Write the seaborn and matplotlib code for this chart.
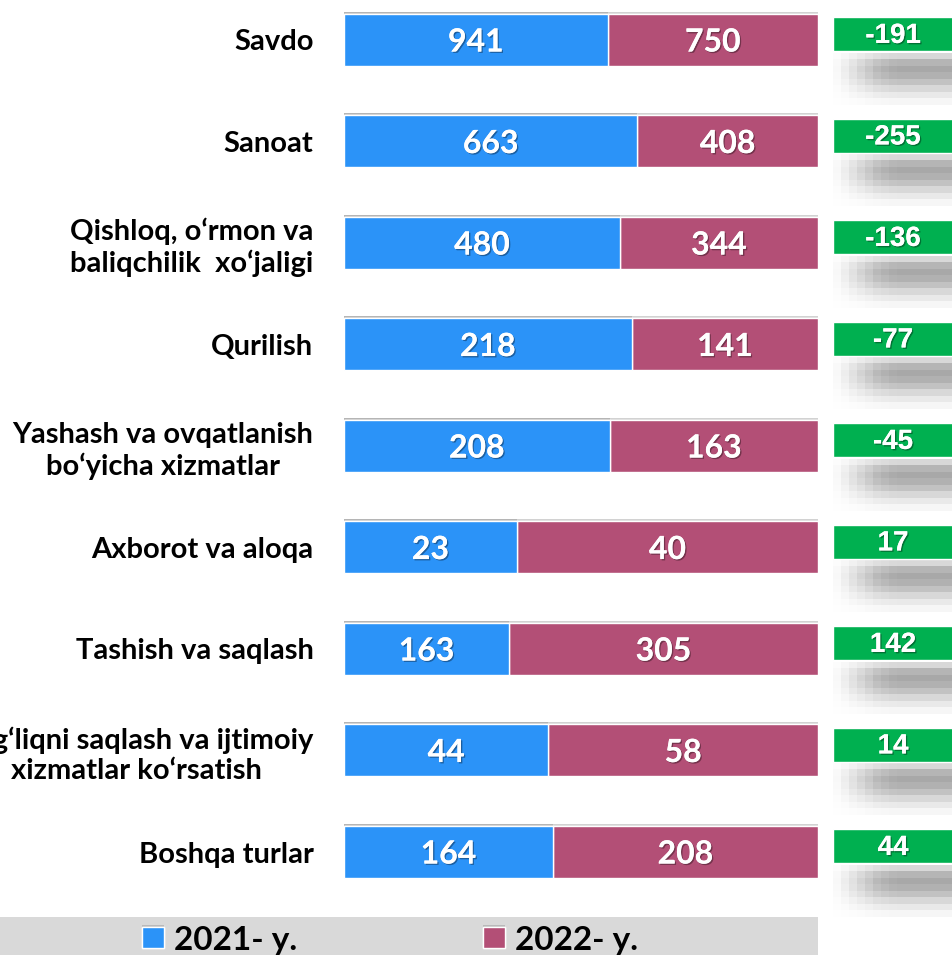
import numpy as np
import pandas as pd
import matplotlib
matplotlib.use("Agg")
import matplotlib.pyplot as plt
import matplotlib.patheffects as pe
import seaborn as sns

categories = [
    "Savdo",
    "Sanoat",
    "Qishloq, o‘rmon va\nbaliqchilik  xo‘jaligi",
    "Qurilish",
    "Yashash va ovqatlanish\nbo‘yicha xizmatlar",
    "Axborot va aloqa",
    "Tashish va saqlash",
    "Sog‘liqni saqlash va ijtimoiy\nxizmatlar ko‘rsatish",
    "Boshqa turlar",
]
values_2021 = [941, 663, 480, 218, 208, 23, 163, 44, 164]
values_2022 = [750, 408, 344, 141, 163, 40, 305, 58, 208]
differences = [-191, -255, -136, -77, -45, 17, 142, 14, 44]
series_names = ["2021- y.", "2022- y."]

C21 = "#2B93F8"
C22 = "#B34F76"
GREEN = "#00B050"

df = pd.DataFrame({"cat": categories, "v21": values_2021, "v22": values_2022})
df["total"] = df["v21"] + df["v22"]
df["s21"] = df["v21"] / df["total"]
df["s22"] = 1.0

sns.set_theme(style="white")
plt.rcParams["font.family"] = ["Lato", "DejaVu Sans"]

W, H = 953, 955
fig = plt.figure(figsize=(W / 100, H / 100), dpi=100)
row_px = 101.5
c0 = 40
ylim = ((H - c0) / row_px, -c0 / row_px)

ax = fig.add_axes([344 / W, 0, 474 / W, 1])
bw = 52 / row_px
sns.barplot(data=df, x="s22", y="cat", color=C22, width=bw, ax=ax,
            saturation=1, label=series_names[1], orient="h")
sns.barplot(data=df, x="s21", y="cat", color=C21, width=bw, ax=ax,
            saturation=1, label=series_names[0], orient="h")
if ax.get_legend() is not None:
    ax.get_legend().remove()
for p in ax.patches:
    p.set_path_effects([pe.withSimplePatchShadow(offset=(0, 1.5), shadow_rgbFace="gray", alpha=0.35), pe.Normal()])
ax.set_xlim(0, 1)
ax.set_ylim(*ylim)
ax.set_xlabel("")
ax.set_ylabel("")
ax.set_xticks([])
for s in ax.spines.values():
    s.set_visible(False)
ax.tick_params(axis="y", length=0, pad=22)
for lab in ax.get_yticklabels():
    lab.set_fontsize(21)
    lab.set_fontweight("bold")
    lab.set_color("black")
    lab.set_multialignment("center")
    lab.set_linespacing(1.2)

shadow_txt = [pe.withSimplePatchShadow(offset=(1, -1), shadow_rgbFace="black", alpha=0.35), pe.Normal()]
for i, r in df.iterrows():
    ax.text(r["s21"] / 2, i + 0.02, f"{r['v21']}", ha="center", va="center", color="white",
            fontsize=23, fontweight="bold", path_effects=shadow_txt)
    ax.text((r["s21"] + 1) / 2, i + 0.02, f"{r['v22']}", ha="center", va="center", color="white",
            fontsize=23, fontweight="bold", path_effects=shadow_txt)

# difference boxes
ax2 = fig.add_axes([833 / W, 0, 1 - 833 / W, 1])
ax2.set_xlim(0, 1)
ax2.set_ylim(*ylim)
ax2.axis("off")
yy = np.array([0.45, 0.85, 1.0, 0.9, 0.7, 0.45, 0.25, 0.1])
xx = np.array([0.08, 0.2, 0.35, 0.5, 0.65, 0.8, 0.9, 0.97, 1, 1, 1, 1, 1, 1, 1])
shade = np.outer(yy, xx)
img = np.ones(shade.shape + (4,))
img[..., :3] = 0.6
img[..., 3] = shade * 0.85
pos = np.arange(len(categories))
for i in pos:
    ax2.imshow(img, extent=(0, 1, i + 0.64, i + 0.13), aspect="auto", interpolation="nearest", zorder=1)
ax2.set_ylim(*ylim)
ax2.set_xlim(0, 1)
ax2.barh(pos - 0.055, [1.0] * len(pos), height=34 / row_px, color=GREEN, zorder=2)
for i, d in zip(pos, differences):
    ax2.text(0.5, i - 0.04, f"{d}", ha="center", va="center", color="white",
             fontsize=20, fontweight="bold", family=["Liberation Sans", "DejaVu Sans"],
             path_effects=shadow_txt, zorder=3)

# legend band
fig.patches.append(plt.Rectangle((0, 0), 818 / W, 38 / H, transform=fig.transFigure,
                                 facecolor="#D9D9D9", edgecolor="none", zorder=0))
handles, labels = ax.get_legend_handles_labels()
order = [labels.index(series_names[0]), labels.index(series_names[1])]
leg = fig.legend([handles[k] for k in order], [labels[k] for k in order],
                 loc="center", bbox_to_anchor=(390 / W, 15 / H), ncol=2, frameon=False,
                 prop={"family": ["Lato", "DejaVu Sans"], "weight": "bold", "size": 24},
                 handlelength=0.65, handleheight=0.6, handletextpad=0.3, columnspacing=5.6,
                 borderpad=0, borderaxespad=0)
for t in leg.get_texts():
    t.set_color("black")

fig.savefig("out.png", dpi=100)
